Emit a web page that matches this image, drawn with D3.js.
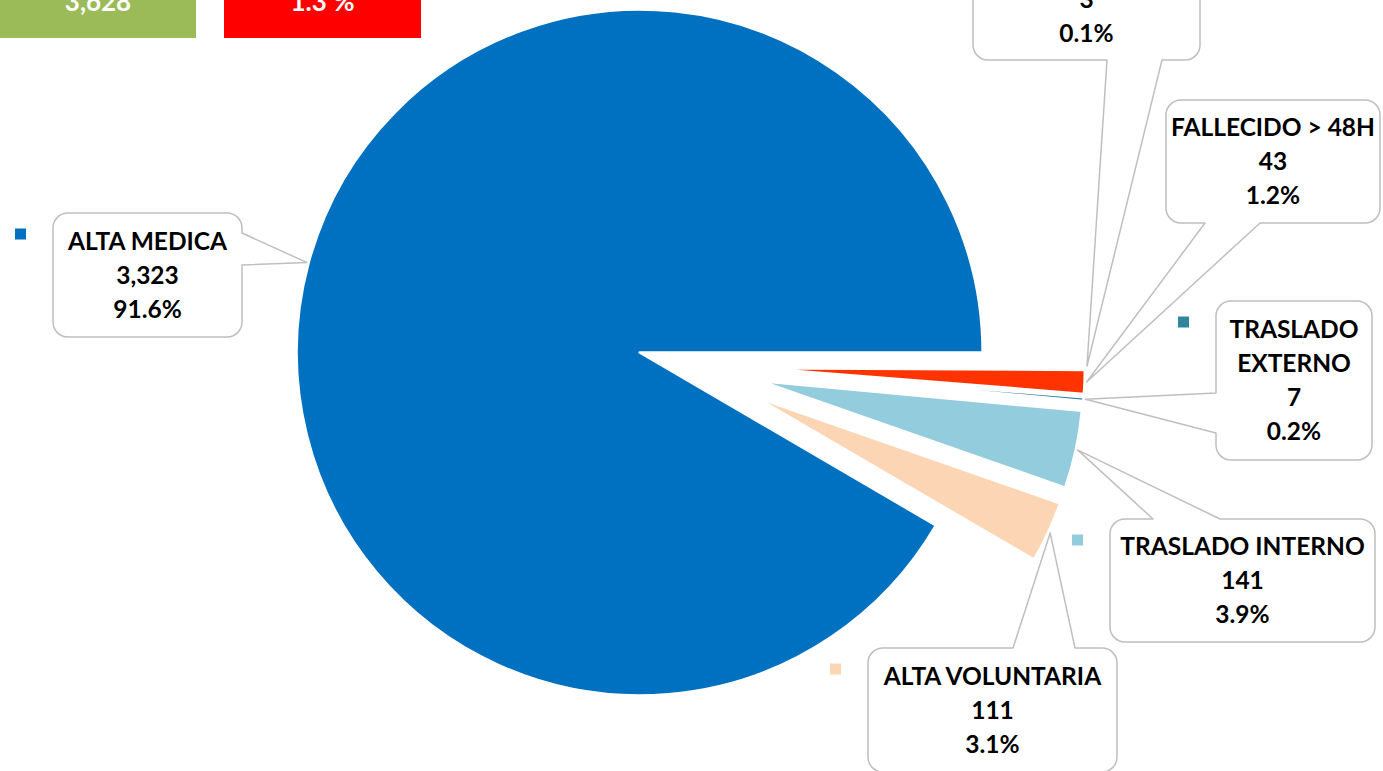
<!DOCTYPE html>
<html>
<head>
<meta charset="utf-8">
<script src="https://cdn.jsdelivr.net/npm/d3@7"></script>
<style>
  html, body { margin: 0; padding: 0; background: #fff; overflow: hidden; }
  svg { display: block; font-family: Lato, "Open Sans", sans-serif; }
</style>
</head>
<body>
<div id="chart"></div>
<script>
// Data.
const categories = ["ALTA MEDICA", "ALTA VOLUNTARIA", "TRASLADO INTERNO", "TRASLADO EXTERNO", "FALLECIDO > 48H", "FALLECIDO < 48H"];
const values = [3323, 111, 141, 7, 43, 3];
const colors = ["#0070C0", "#FCD5B5", "#93CDDD", "#31859C", "#FF3300", "#C00000"];
const deathCategories = ["FALLECIDO > 48H", "FALLECIDO < 48H"];

// Wrapped names inside the callouts.
const nameLines = { "TRASLADO EXTERNO": ["TRASLADO", "EXTERNO"] };

// Callout boxes (layout only): box, side where the pointer leaves, pointer base.
const callouts = {
  "ALTA MEDICA":      { x: 53,   y: 213, w: 189, h: 124, side: "right",  p1: 233,  p2: 265 },
  "ALTA VOLUNTARIA":  { x: 868,  y: 648, w: 249, h: 124, side: "top",    p1: 1013, p2: 1075 },
  "TRASLADO INTERNO": { x: 1110, y: 519, w: 265, h: 123, side: "top",    p1: 1153, p2: 1220 },
  "TRASLADO EXTERNO": { x: 1216, y: 301, w: 156, h: 159, side: "left",   p1: 393,  p2: 433 },
  "FALLECIDO > 48H":  { x: 1166, y: 100, w: 214, h: 123, side: "bottom", p1: 1205, p2: 1260 },
  "FALLECIDO < 48H":  { x: 973,  y: -62, w: 227, h: 122, side: "bottom", p1: 1107, p2: 1162 },
};

const width = 1383;
const height = 771;
const center = [686, 365];
const radiusMain = 343;
const radiusOther = 323;
const explodeMain = 48;
const explodeOther = 76;
const lineHeight = 34;
const grey = "#BFBFBF";

const data = categories.map((c, i) => ({ name: c, value: values[i], color: colors[i] }));
const total = d3.sum(values);
const deaths = d3.sum(data.filter((d) => deathCategories.includes(d.name)), (d) => d.value);

const svg = d3.select("#chart").append("svg")
  .attr("width", width)
  .attr("height", height);

/**
 * Summary boxes at the top (cut by the frame).
 */
const summary = [
  { text: d3.format(",")(total), color: "#9BBB59", x: 0, w: 196 },
  { text: d3.format(".1f")(deaths / total * 100) + " %", color: "#FF0000", x: 224, w: 197 },
];
const sg = svg.append("g").selectAll("g").data(summary).join("g");
sg.append("rect")
  .attr("x", (d) => d.x).attr("y", -40)
  .attr("width", (d) => d.w).attr("height", 78)
  .attr("fill", (d) => d.color);
sg.append("text")
  .attr("x", (d) => d.x + d.w / 2).attr("y", 11)
  .attr("text-anchor", "middle")
  .attr("fill", "#fff")
  .attr("font-weight", 700)
  .attr("font-size", 26)
  .text((d) => d.text);

/**
 * Pie.
 */
const pie = d3.pie()
  .value((d) => d.value)
  .sort(null)
  .startAngle(Math.PI / 2 + 2 * Math.PI)
  .endAngle(Math.PI / 2);
const arcs = pie(data);

const isMain = (d) => d.data.name === categories[0];
const radiusOf = (d) => (isMain(d) ? radiusMain : radiusOther);
const midAngle = (d) => (d.startAngle + d.endAngle) / 2;
const dir = (a) => [Math.sin(a), -Math.cos(a)];
const sliceOrigin = (d) => {
  const e = isMain(d) ? explodeMain : explodeOther;
  const [ux, uy] = dir(midAngle(d));
  return [center[0] + ux * e, center[1] + uy * e];
};

const arc = d3.arc().innerRadius(0).outerRadius((d) => radiusOf(d));

svg.append("g").selectAll("path")
  .data(arcs)
  .join("path")
  .attr("transform", (d) => `translate(${sliceOrigin(d)})`)
  .attr("d", arc)
  .attr("fill", (d) => d.data.color)
  .attr("stroke", "#fff")
  .attr("stroke-width", 2.6)
  .attr("stroke-linejoin", "round");

/**
 * Callouts.
 */
function calloutPath(b, tip) {
  const r = 15;
  const { x, y, w, h, side, p1, p2 } = b;
  const p = d3.path();
  p.moveTo(x + r, y);
  if (side === "top") { p.lineTo(p1, y); p.lineTo(tip[0], tip[1]); p.lineTo(p2, y); }
  p.lineTo(x + w - r, y);
  p.arcTo(x + w, y, x + w, y + r, r);
  if (side === "right") { p.lineTo(x + w, p1); p.lineTo(tip[0], tip[1]); p.lineTo(x + w, p2); }
  p.lineTo(x + w, y + h - r);
  p.arcTo(x + w, y + h, x + w - r, y + h, r);
  if (side === "bottom") { p.lineTo(p2, y + h); p.lineTo(tip[0], tip[1]); p.lineTo(p1, y + h); }
  p.lineTo(x + r, y + h);
  p.arcTo(x, y + h, x, y + h - r, r);
  if (side === "left") { p.lineTo(x, p2); p.lineTo(tip[0], tip[1]); p.lineTo(x, p1); }
  p.lineTo(x, y + r);
  p.arcTo(x, y, x + r, y, r);
  p.closePath();
  return p.toString();
}

const fmtValue = d3.format(",");
const fmtPct = d3.format(".1%");

const labels = svg.append("g").selectAll("g")
  .data(arcs)
  .join("g");

labels.append("path")
  .attr("d", (d) => {
    const o = sliceOrigin(d);
    const [ux, uy] = dir(midAngle(d));
    const rr = radiusOf(d) + 2;
    return calloutPath(callouts[d.data.name], [o[0] + ux * rr, o[1] + uy * rr]);
  })
  .attr("fill", "#fff")
  .attr("stroke", grey)
  .attr("stroke-width", 1.5)
  .attr("stroke-linejoin", "round");

labels.append("rect")
  .attr("x", (d) => callouts[d.data.name].x - 38)
  .attr("y", (d) => callouts[d.data.name].y + 15.5)
  .attr("width", 11)
  .attr("height", 11)
  .attr("fill", (d) => d.data.color);

labels.each(function (d) {
  const b = callouts[d.data.name];
  const lines = (nameLines[d.data.name] || [d.data.name])
    .concat([fmtValue(d.data.value), fmtPct(d.data.value / total)]);
  const cy = b.y + b.h / 2;
  const y0 = cy - ((lines.length - 1) * lineHeight) / 2;
  d3.select(this).append("text")
    .attr("text-anchor", "middle")
    .attr("font-weight", 700)
    .attr("font-size", 24.5)
    .attr("fill", "#000")
    .selectAll("tspan")
    .data(lines)
    .join("tspan")
    .attr("x", b.x + b.w / 2)
    .attr("y", (_, i) => y0 + i * lineHeight)
    .attr("dy", "0.36em")
    .text((t) => t);
});
</script>
</body>
</html>
